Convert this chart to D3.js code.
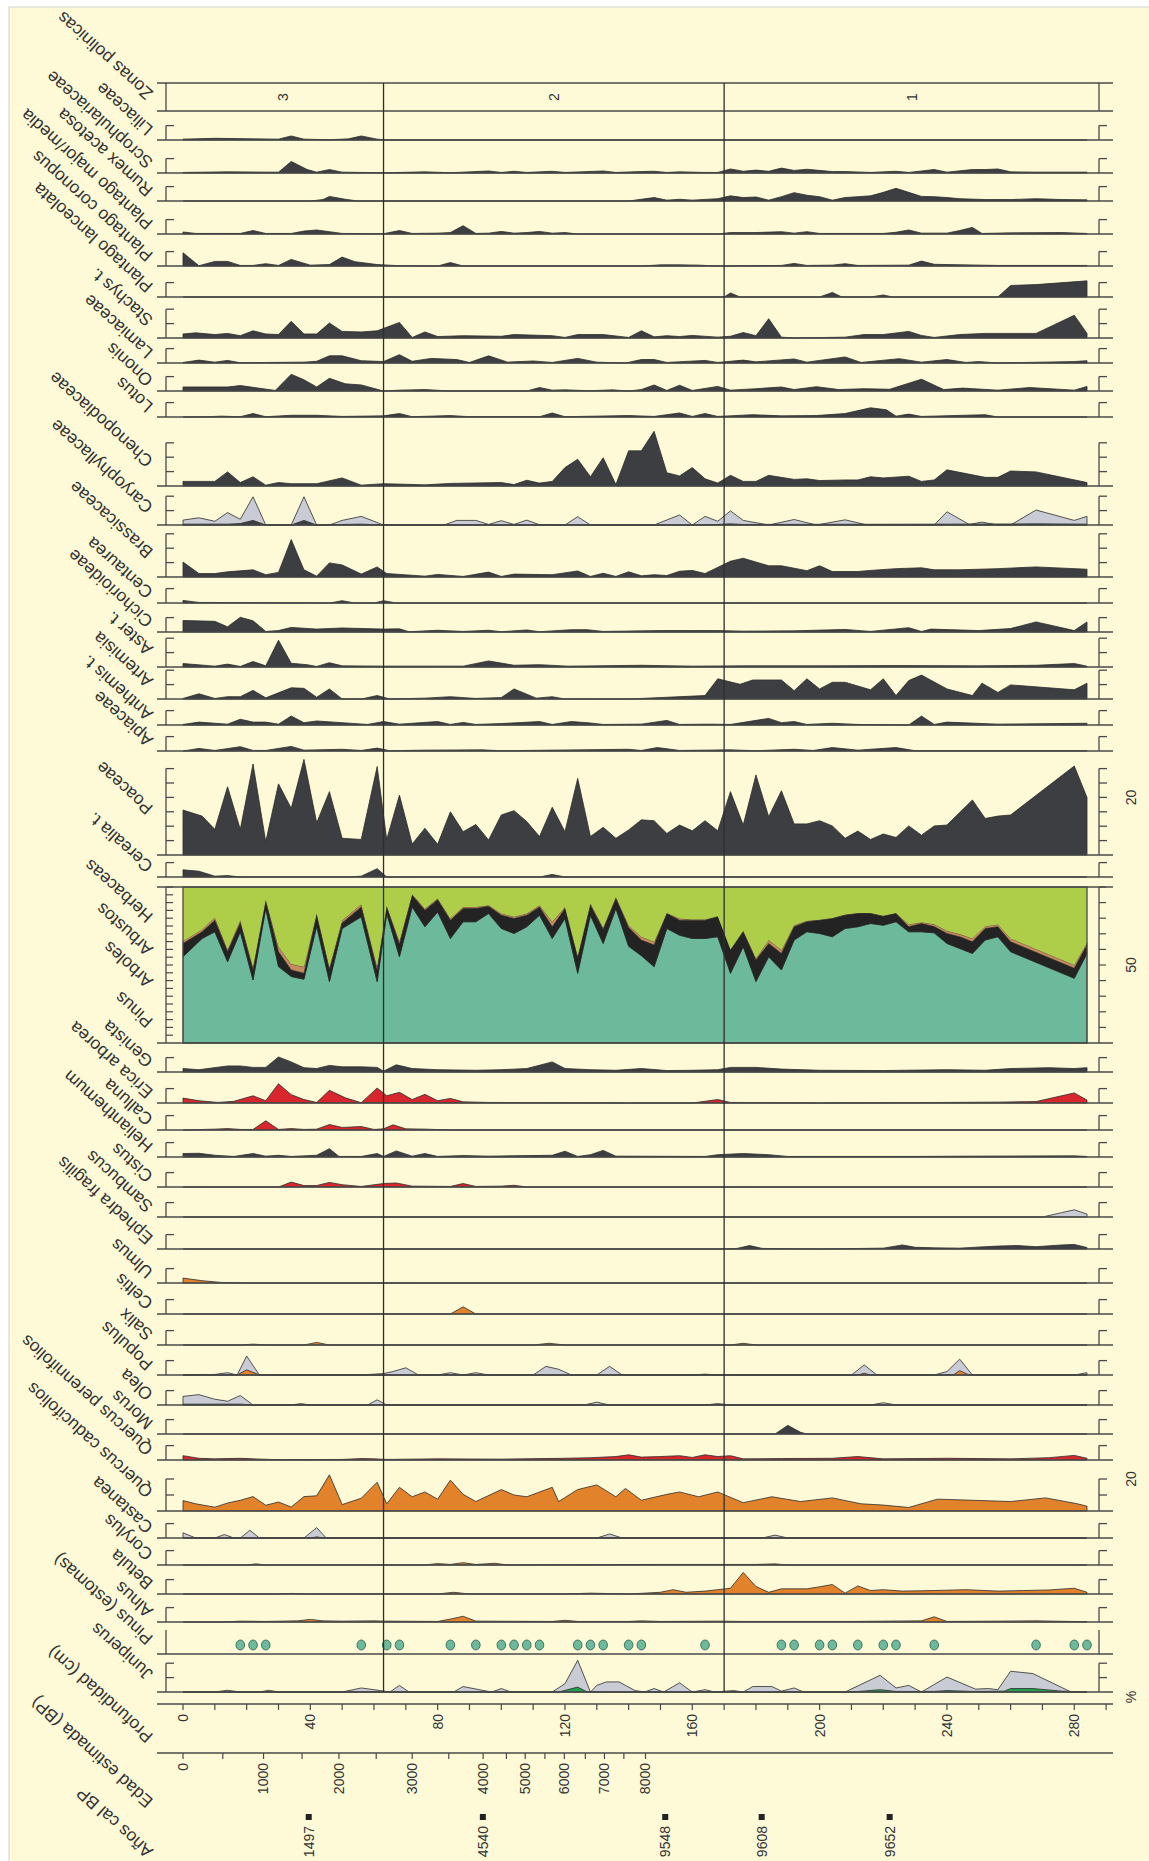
<!DOCTYPE html>
<html><head><meta charset="utf-8">
<script src="https://cdn.jsdelivr.net/npm/d3@7"></script>
<style>
body{margin:0;background:#fff}
svg{display:block}
text{font-family:"Liberation Sans",Arial,Helvetica,sans-serif;fill:#333}
</style></head>
<body><svg id="chart" width="1149" height="1861"></svg>
<script>
// ---------------- DATA ----------------
const taxa = ["Zonas polinicas","Liliaceae","Scrophulariaceae","Rumex acetosa","Plantago major/media","Plantago coronopus","Plantago lanceolata","Stachys t.","Lamiaceae","Ononis","Lotus","Chenopodiaceae","Caryophyllaceae","Brassicaceae","Centaurea","Cichorioideae","Aster t.","Artemisia","Anthemis t.","Apiaceae","Poaceae","Cerealia t.","Herbaceas","Arbustos","Arboles","Pinus","Genista","Erica arborea","Calluna","Helianthemum","Cistus","Sambucus","Ephedra fragilis","Ulmus","Celtis","Salix","Populus","Olea","Morus","Quercus perennifolios","Quercus caducifolios","Castanea","Corylus","Betula","Alnus","Pinus (estomas)","Juniperus","Profundidad (cm)","Edad estimada (BP)","Años cal BP"];

const zoneBounds = [63, 170];
const zoneLabels = [["3",31.5],["2",116.5],["1",229]];

const depthTicks = d3.range(0, 291, 10);
const depthLabels = [0,40,80,120,160,200,240,280];
const ageTicks = [0,500,1000,1500,2000,2500,3000,3500,4000,4500,5000,5500,6000,6500,7000,7500,8000];
const ageTickDepths = [0,12.5,25.3,37.4,49,60.7,72,83.5,94.3,101.6,107.5,113.7,119.8,126.4,132.4,138.5,145.3];
const calAges = [1497,4540,9548,9608,9652];
const calDepths = [39.5,94.2,151.5,181.8,222];

const liliaceae = [[0,0.3],[10,0.6],[22,0.4],[30,0.3],[34,1.4],[38,0.3],[46,0.1],[52,0.4],[56,1.4],[61,0.3],[64,0],[284,0]];
const scrophulariaceae = [[0,0.2],[14,0.4],[26,0.3],[30,0.3],[34,4],[39,1.2],[42,0.3],[46,1.2],[50,0.3],[56,0.2],[64,0.1],[76,0.4],[84,0.1],[96,0.7],[100,0.2],[104,0.6],[108,0.2],[116,0.6],[120,0.2],[132,0.7],[136,0.2],[144,0.5],[148,0.6],[152,0.2],[156,0.4],[164,0.2],[168,0.2],[172,1.4],[176,0.6],[180,1],[184,0.6],[188,1.7],[192,0.9],[196,1.3],[204,0.5],[208,0.5],[216,0.2],[224,0.6],[228,0.2],[236,1.2],[240,0.3],[248,1.2],[252,1.2],[256,1.4],[260,0.4],[268,0.3],[284,0.3]];
const rumex = [[0,0],[40,0],[44,0.5],[46,1.6],[51,0.6],[55,0],[140,0],[144,0.6],[148,1.2],[152,0.3],[156,0.6],[160,0.3],[168,0.8],[172,1.8],[176,1.2],[180,1.4],[184,0.3],[188,1.5],[192,2.9],[196,2],[200,1.5],[204,0.3],[208,1.2],[212,1.5],[216,1.8],[220,3],[224,4.4],[228,3],[232,1.6],[236,1.5],[240,1.2],[244,0.8],[252,0.5],[260,0.5],[268,0.8],[276,0.5],[284,0.4]];
const plantagoMajor = [[0,0.7],[4,0.2],[18,0.2],[22,1.2],[26,0.2],[34,0.2],[38,1],[42,1.4],[46,0.8],[50,0.2],[63,0.1],[68,1.2],[72,0.2],[80,0.3],[84,0.5],[88,2.9],[92,0.2],[96,0.3],[100,0.9],[104,0.3],[108,0.5],[112,0.9],[116,0.3],[120,0.5],[124,0],[168,0],[172,0.5],[180,0.5],[188,0.8],[192,0.3],[196,0.8],[200,0.2],[220,0.2],[224,0.6],[228,1.4],[232,0.3],[240,0.3],[244,1.2],[248,2.3],[251,0.2],[260,0.4],[276,0.5],[284,0.2]];
const plantagoCoronopus = [[0,4.6],[5,0.1],[10,1.6],[14,1.6],[18,0.2],[22,0.2],[26,0.8],[30,0.2],[34,2.3],[40,0.3],[46,0.5],[50,3.1],[54,1.5],[61,0.5],[68,0.1],[80,0],[84,1.2],[88,0],[144,0],[150,0.4],[156,0.4],[162,0.3],[168,0],[188,0.2],[192,0.9],[196,0.2],[204,0.3],[208,0.8],[212,0.2],[228,0.3],[232,1.7],[236,0.6],[240,0.5],[256,0.2],[284,0.2]];
const plantagoLanceolata = [[0,0],[168,0],[170,0],[172,1.4],[175,0],[200,0],[204,1.6],[207,0],[216,0],[220,0.7],[223,0],[256,0],[260,4],[268,4.3],[284,5.6]];
const stachys = [[0,1.4],[4,1.8],[10,1.2],[14,1.6],[18,0.8],[22,2.5],[26,1.4],[30,1.2],[34,5.8],[38,1.4],[42,1.4],[46,5.2],[50,2.3],[56,2.1],[61,2.5],[68,5.4],[72,0.2],[76,2.1],[80,0.5],[88,0.8],[100,0.6],[104,1.2],[116,0.8],[120,0.2],[124,1.2],[132,1.2],[140,0.2],[144,2.5],[148,0.4],[152,0.8],[156,0.5],[160,0.9],[168,0.3],[172,0.6],[176,1.9],[180,0.8],[184,6.7],[188,0.3],[192,0],[208,0.3],[214,1.2],[220,1.2],[228,2.3],[232,0.9],[236,0.2],[244,1.2],[252,1.6],[268,1.6],[280,7.9],[284,1.6]];
const lamiaceae = [[0,0.2],[5,1],[10,0.3],[14,0.9],[18,0.1],[38,0.3],[42,0.6],[46,2.5],[50,2.5],[56,0.8],[63,0.5],[68,2.9],[72,0.6],[78,1.6],[86,1.2],[90,0.2],[96,2.5],[102,0.3],[110,0.7],[116,0.2],[124,1.6],[130,0.3],[139,0],[144,1.2],[148,1.2],[152,0.2],[164,0.9],[168,0.2],[176,1],[180,0.4],[192,1.4],[196,0.3],[208,2.1],[213,0.2],[225,1.5],[232,0.3],[240,1.2],[246,0.2],[250,0.5],[256,0],[280,0.5],[284,0.8]];
const ononis = [[0,1.4],[14,1.4],[18,1.9],[29,0.2],[34,5.8],[38,3.9],[42,1.4],[46,4.4],[51,2.5],[56,2.1],[63,0],[68,0.3],[76,0.5],[84,0],[108,0],[112,1.2],[116,0.3],[120,0.4],[128,0.1],[135,0.4],[140,0],[144,0.5],[148,2.1],[152,0.2],[156,2],[160,0.2],[168,1.6],[172,0.3],[180,0.8],[188,1.4],[192,0.5],[199,1.5],[206,0.5],[214,0.8],[222,0.6],[232,4.1],[239,0.5],[245,1],[256,0.3],[266,1.2],[280,0.3],[284,1.6]];
const lotus = [[0,0],[8,0.1],[12,0.3],[18,0.1],[22,1.2],[26,0.1],[34,0.6],[42,0.6],[50,0.2],[63,0.4],[68,1.2],[72,0.1],[84,0.5],[90,0.1],[112,0.1],[116,1.4],[120,0.1],[140,0.5],[148,0.2],[156,1.4],[160,0.2],[164,1.2],[168,0.2],[179,0.8],[188,0.4],[199,0.5],[208,1.2],[216,3.2],[221,2.5],[224,0.3],[228,1],[232,0.2],[252,0.8],[256,0],[284,0]];
const chenopodiaceae = [[0,1.6],[10,1.6],[14,4.9],[18,1.2],[22,3.2],[26,0.3],[30,1.2],[34,0.8],[42,0.8],[50,2.8],[56,0.3],[63,0.8],[70,0.6],[76,0.4],[84,0.9],[100,1.2],[104,0.5],[108,2],[112,1],[116,1.6],[120,6.4],[124,9.3],[128,3.2],[132,9.8],[136,0.5],[140,12.2],[144,12.2],[148,19],[152,4.6],[156,3.5],[160,6.4],[164,2.5],[168,1],[172,3.7],[176,1.6],[180,1.6],[184,3.7],[192,2.3],[196,2.5],[200,1.9],[208,2.1],[212,2.1],[216,3.2],[220,2.8],[228,3.4],[232,1.6],[236,2.1],[240,5.6],[252,3],[256,3],[260,5.2],[268,4.9],[284,1.2]];
const caryophyllaceaeX = [[0,1.7],[5,2.5],[10,1.3],[14,4.3],[18,2],[22,9.8],[26,0],[34,0],[38,9.8],[42,0],[46,0],[50,1.6],[56,3],[63,0],[82,0],[86,1.6],[92,1.6],[96,0.2],[100,1.5],[104,0.2],[108,1.7],[112,0.1],[120,0],[124,2.9],[128,0],[148,0],[156,3.5],[160,0],[164,3],[168,1.3],[172,4.9],[176,1.6],[184,0],[192,1.9],[199,0],[208,1.8],[215,0],[236,0],[240,4.6],[247,0.2],[251,1],[256,0],[260,0],[268,5.2],[280,1.6],[284,3]];
const caryophyllaceae = [[0,0.3],[14,0.3],[18,0.5],[22,1.6],[26,0],[34,0],[38,1.6],[42,0],[50,0.2],[56,0.3],[63,0],[164,0],[168,0.2],[172,0.4],[176,0.2],[240,0.3],[268,0.4],[284,0.3]];
const brassicaceae = [[0,5.2],[5,1.2],[10,1.2],[14,1.8],[22,2.5],[26,0.8],[30,1.6],[34,13],[38,2.5],[42,0.3],[46,4.9],[50,4.2],[56,1],[61,3.5],[64,1.2],[76,0.3],[80,0.9],[88,0.2],[96,1.7],[100,0.2],[104,1],[116,0.8],[124,2.1],[128,0.2],[132,1.3],[136,0.2],[140,1.8],[144,0.4],[148,0.8],[152,0.5],[156,2],[160,2.3],[164,1.2],[172,5.5],[176,6.5],[184,3.9],[188,3.9],[196,2.2],[200,3.9],[204,1.9],[212,1.9],[216,2.3],[224,2.9],[232,3.2],[236,2.5],[244,2.5],[256,2.9],[268,3.5],[284,2.7]];
const centaurea = [[0,0.9],[5,0.2],[46,0],[50,0.8],[54,0],[60,0],[63,0.8],[67,0],[284,0]];
const cichorioideae = [[0,4],[10,3.7],[14,1.8],[18,5.1],[22,3.9],[26,0.2],[30,0.5],[34,1.6],[42,1],[50,1.4],[63,1],[68,1.1],[71,0.1],[80,0.6],[88,0.2],[96,0.6],[100,0.1],[108,0.7],[112,0.1],[122,0.8],[127,0.8],[132,0.2],[144,0.4],[150,0.5],[160,0.5],[168,0.5],[176,0.3],[192,0.4],[208,0.9],[216,0.2],[228,1.5],[232,0.2],[235,1],[250,0.5],[260,1.2],[268,3.5],[280,0.5],[284,3.5]];
const asterT = [[0,1.2],[10,0.3],[14,1],[18,0.2],[22,1.9],[26,0.4],[30,9.3],[34,1.3],[39,0.8],[42,0.2],[46,1.5],[50,0.4],[63,0.3],[80,0.3],[88,0.3],[96,2.1],[104,0.6],[112,0.8],[121,0.3],[144,0.6],[160,0.3],[176,0.4],[200,0.4],[224,0.5],[250,0.4],[268,0.6],[280,1.2],[284,0.3]];
const artemisia = [[0,0.2],[5,1.8],[10,0.2],[14,0.8],[18,0.8],[22,3],[26,0.4],[34,3.9],[38,3.7],[42,0.6],[46,3.5],[50,0],[56,0],[61,1.2],[65,0],[76,0.3],[84,0.8],[92,0.2],[100,0.5],[104,3.5],[111,0.3],[116,0.8],[120,0],[140,0],[164,1.2],[168,7],[175,5.1],[179,6.6],[188,6.6],[192,2.9],[196,7],[200,3.5],[204,5.8],[208,5.8],[216,3.2],[220,7],[224,1.2],[228,6.4],[232,8.3],[240,3.5],[248,1.2],[251,5.5],[256,2.3],[260,4.9],[280,3.2],[284,5.5]];
const anthemis = [[0,0.2],[5,1],[14,0.3],[18,2],[22,1],[26,1],[30,0.3],[34,3.1],[38,0.8],[42,1.4],[50,0.8],[58,0.2],[63,1.2],[68,0.3],[80,1.2],[84,0.2],[88,0.9],[92,0.2],[100,0.5],[112,1.2],[116,0.2],[122,1.2],[128,0.7],[132,0.2],[144,0.3],[152,1.6],[156,0.2],[165,0.3],[172,0.2],[184,2.3],[188,0.8],[192,1.2],[196,0.2],[204,0.6],[212,0.2],[228,0],[232,3.1],[236,0.2],[240,1],[256,0.3],[284,0.6]];
const apiaceae = [[0,0],[5,0.9],[10,0.2],[18,1.5],[22,0.2],[26,0.2],[34,1.6],[38,0.3],[50,0.6],[56,0.2],[61,1],[65,0.1],[76,0.3],[94,0.4],[100,0.1],[140,0.6],[144,0.2],[149,1.2],[156,0.2],[172,0.4],[180,0.1],[192,0.6],[198,0.2],[204,1.2],[212,0.3],[224,1.2],[230,0.1],[284,0.1]];
const poaceae = [[0,15.6],[6,13.5],[10,8.9],[14,23.7],[18,8.9],[22,31.6],[26,4.6],[30,24.7],[34,16.2],[38,33.2],[42,11.2],[46,22],[50,5.8],[56,5.4],[61,30.7],[64,5.4],[68,20.8],[72,3.8],[76,9.3],[80,3.7],[84,15],[88,8.1],[92,10.6],[96,5.2],[100,13.9],[104,15.4],[108,11.6],[112,6.4],[116,16.6],[120,8.1],[124,26.6],[128,6.4],[132,9.6],[136,5.8],[140,8.7],[144,12.2],[148,11.9],[152,7.5],[156,10.4],[160,8.4],[164,11.9],[168,8.4],[172,22],[176,10.4],[180,27.8],[184,13.3],[188,22.3],[192,10.8],[196,10.8],[200,11.9],[204,10.1],[208,5.8],[212,8.3],[216,5.4],[220,7.3],[224,6.1],[228,10.1],[232,6.9],[236,10.1],[240,10.4],[248,19.1],[252,12.7],[256,13.5],[260,13.9],[280,30.9],[284,20]];
const cerealia = [[0,2.5],[5,2],[10,0.3],[14,0.5],[18,0],[52,0],[56,0.3],[61,2.9],[64,0],[112,0],[116,0.9],[120,0],[284,0]];

const stackDepths = [0,6,10,14,18,22,26,30,34,38,42,46,50,56,61,64,68,72,76,80,84,88,92,96,100,104,108,112,116,120,124,128,132,136,140,144,148,152,156,160,164,168,172,176,180,184,188,192,196,200,204,208,212,216,220,224,228,232,236,240,244,248,252,256,260,280,284];
const pinusPct = [55.3,67,71.3,52.1,71.3,40.4,86.2,49,42.6,40.9,74.9,39.4,73.4,80.9,39.4,83,55.3,87.2,74.5,84,67,77.7,77.7,83,73.4,70.2,74.5,81.9,67,79.8,44.7,81.9,63.8,86.2,62,56,48.9,73.4,69.1,67,67,68.1,44.7,61.7,39.4,55.3,46.8,66,71.3,70.2,68.1,73.4,74.5,76.6,75.5,77.7,71.3,71.3,70.6,63.8,60.6,57.4,66,68.1,58.5,41.5,57.4];
const arbolesPct = [8.5,4.3,7.4,6.4,5.7,6.4,4.7,9.5,4.2,3.8,7.0,7.4,3.6,6.3,7,4.2,8,7.5,10.6,7.9,11.7,8.5,8.5,4.7,8.5,9.6,7.4,5.3,7.5,6.4,10,6.4,9,6.4,12,10,13.9,9.6,9.6,11.7,11.7,12.8,14.9,9.6,13.8,8.5,10.6,8.5,6.4,8.5,11.7,8.5,8.5,6.4,5.8,5.3,3.2,5.3,4,6.4,7.5,7.5,7.4,6.4,6.4,6.4,5.4];
const arbustosPct = [1.5,1.5,1.7,1.5,1.7,1.7,1.0,3.2,3.8,4.2,1.1,1.7,1.7,1.7,2.5,0.7,2,0.6,1.1,0.7,1.1,1.0,1.0,0.6,1.1,1.1,1.1,1.1,3.2,1.0,1,1.1,1,1.0,1.5,2.1,2.1,0.4,1.1,0.4,0.5,0.4,0.4,0.6,1.1,2.2,2.2,1.0,0.6,0.3,0.4,0.4,0.3,0.3,0.3,0.3,1.5,0.8,1.5,1.7,1.7,2.1,1.5,1.5,2.1,2.1,1.5];
const herbaceasPct = [34.7,27.2,19.6,40,21.3,51.5,8.1,38.3,49.4,51.1,17,51.5,21.3,11.1,51.1,12.1,34.7,4.7,13.8,7.4,20.2,12.8,12.8,11.7,17,19.1,17,11.7,22.3,12.8,44.3,10.6,26.2,6.4,24.5,31.9,35.1,16.6,20.2,20.9,20.8,18.7,40,28.1,45.7,34,40.4,24.5,21.7,21,19.8,17.7,16.7,16.7,18.4,16.7,24,22.6,23.9,28.1,30.2,33,25.1,24,33,50,35.7];

const genista = [[0,1.2],[5,0.8],[14,2.1],[18,2.1],[22,1.6],[26,1.6],[30,5.2],[34,3.5],[38,1.5],[42,1.2],[46,2.3],[50,1.8],[56,1.8],[61,1.6],[63,0.3],[67,2.5],[72,1.2],[80,0.8],[92,0.6],[100,0.8],[108,1.2],[116,3.5],[120,1.2],[128,0.8],[136,0.6],[144,1.2],[152,0.5],[160,0.6],[168,0.8],[172,1.6],[180,1.6],[188,1],[200,0.6],[220,0.5],[240,0.8],[252,0.6],[260,1.2],[272,1.5],[280,1.2],[284,1.5]];
const ericaArborea = [[0,1.7],[5,0.8],[11,0.2],[16,0.6],[22,2.5],[26,0.8],[30,6.7],[34,2.9],[38,1.2],[42,0.2],[46,4.4],[51,1.8],[56,0.1],[61,5.2],[64,2.5],[68,3.7],[72,1.2],[76,3],[80,0.8],[84,1.6],[88,0.4],[96,0.2],[140,0],[160,0],[164,0.6],[168,1.2],[172,0.2],[200,0],[240,0.2],[256,0.3],[268,0.5],[280,3.5],[284,1]];
const calluna = [[0,0],[10,0.3],[14,0.5],[18,0.2],[22,0.2],[26,3.2],[30,0.2],[34,0.5],[38,0.2],[42,0.3],[46,1.9],[50,0.9],[56,1.2],[60,0.2],[63,0.4],[66,1.8],[70,0.4],[76,0.3],[84,0],[284,0]];
const helianthemum = [[0,1.2],[5,1.3],[10,0.6],[16,0.2],[22,1.2],[26,0.3],[30,0.6],[34,0.2],[42,0.6],[46,2.9],[49,0.2],[56,0.2],[61,1.2],[63,0.2],[67,2.1],[72,0.3],[76,1.2],[80,0.2],[88,0.5],[96,0.3],[116,0.6],[120,2],[124,0.2],[128,0.8],[132,2.3],[136,0.3],[164,0.2],[168,0.8],[176,1.2],[184,0.8],[190,0.2],[230,0.2],[248,0.3],[280,0.4],[284,0.2]];
const cistus = [[0,0],[30,0],[34,1.7],[38,0.5],[42,0.5],[46,1.6],[50,0.8],[56,0.2],[63,1.2],[67,1.4],[72,0.3],[84,0.2],[88,1.2],[92,0.2],[100,0.3],[104,0.6],[108,0],[284,0]];
const sambucusX = [[0,0],[270,0],[276,1.5],[280,2.5],[284,1]];
const ephedra = [[0,0],[170,0],[174,0.2],[178,1.2],[182,0.2],[200,0],[220,0.3],[226,1.4],[230,0.6],[236,0.4],[244,0.3],[252,0.8],[256,1],[262,1.2],[268,0.8],[276,1.4],[280,1.6],[284,0.5]];
const ulmus = [[0,1.7],[6,0.8],[12,0.2],[20,0],[284,0]];
const celtis = [[0,0],[84,0],[88,2.5],[92,0],[284,0]];
const salix = [[0,0],[18,0],[22,0.3],[26,0],[38,0],[42,0.9],[46,0],[110,0],[115,0.6],[120,0],[172,0],[176,0.6],[180,0],[284,0]];
const populusX = [[0,0],[10,0.2],[14,0.8],[17,0],[20,6.6],[24,0],[56,0],[63,0.5],[66,1.2],[70,2.5],[74,0],[80,0],[84,0.8],[88,0],[92,0.8],[96,0],[110,0],[114,3],[118,2],[122,0],[130,0],[134,3],[138,0],[160,0],[164,0.3],[168,0],[210,0],[214,3.5],[218,0],[236,0],[240,1.2],[244,5.5],[248,0],[280,0],[284,0.8]];
const populus = [[0,0],[17,0],[20,1.8],[24,0],[212,0],[214,0.6],[216,0],[242,0],[244,1.5],[247,0],[284,0]];
const oleaX = [[0,3],[5,3.6],[10,2],[14,1.3],[18,3.3],[22,0],[34,0],[37,0.5],[40,0],[58,0],[61,1.8],[64,0],[126,0],[130,1],[134,0],[164,0],[168,0.5],[172,0],[216,0],[220,0.8],[224,0],[284,0]];
const olea = [[0,0.3],[18,0.3],[22,0],[284,0]];
const morus = [[0,0],[186,0],[190,3],[194,0.6],[196,0],[284,0]];
const quercusPerennifolios = [[0,1.5],[5,0.6],[10,0.4],[14,0.5],[18,0.6],[22,0.4],[30,0.1],[50,0.2],[56,0.5],[60,0.4],[64,0.2],[80,0.4],[100,0.3],[120,0.6],[128,0.8],[136,1.2],[140,1.8],[144,1],[150,1.2],[156,1.5],[160,0.9],[164,1.8],[168,1.2],[172,1.5],[176,0.4],[188,0.5],[204,0.6],[212,1.2],[220,0.4],[240,0.6],[260,0.4],[272,0.8],[280,1.6],[284,0.6]];
const quercusCaducifolios = [[0,6.5],[4,4.5],[10,2.4],[14,5],[18,6.7],[22,9],[26,3.6],[30,5.6],[34,2.5],[38,9],[42,9.5],[46,22.6],[50,4],[56,8],[61,18],[64,4.5],[68,14.8],[72,8.9],[76,11.9],[80,7.4],[84,19.3],[88,10.4],[92,5.9],[100,13.4],[104,10],[108,8.9],[116,14.8],[118,5.9],[124,13.4],[130,16.3],[136,8.9],[139,14.1],[144,6.7],[152,10.4],[156,11.9],[162,8.9],[168,11.9],[176,5.2],[185,8.9],[194,5.9],[204,8.2],[213,4.5],[220,3.7],[228,2.2],[237,7.4],[248,6.7],[260,5.9],[271,8.2],[281,4.5],[284,3]];
const castaneaX = [[0,1.8],[4,0],[10,0],[13,1.2],[16,0],[18,0],[21,2.7],[24,0],[38,0],[42,3.6],[45,0],[130,0],[134,1.4],[138,0],[182,0],[186,1],[190,0],[284,0]];
const castanea = [[0,0],[40,0],[42,0.4],[44,0],[284,0]];
const corylus = [[0,0],[20,0],[23,0.4],[26,0],[76,0],[80,0.5],[84,0.2],[88,0.8],[92,0.2],[98,0.6],[102,0],[120,0.1],[150,0.2],[180,0.2],[186,0.4],[190,0],[284,0]];
const betula = [[0,0],[30,0],[34,0.2],[40,0],[80,0],[85,0.6],[90,0],[120,0],[128,0.3],[140,0],[150,0.6],[154,1.5],[158,0.6],[164,1],[168,1.5],[172,2],[176,7.5],[180,2.6],[184,0.6],[188,1.8],[196,1.8],[200,2.5],[204,3.3],[208,0.3],[212,2.8],[216,1.2],[220,1.5],[226,1],[236,1.2],[246,1.5],[256,1],[264,1.2],[272,1.4],[280,2],[284,0.6]];
const alnus = [[0,0],[12,0],[18,0.3],[26,0.2],[36,0.4],[40,0.9],[44,0.4],[50,0.3],[60,0.4],[64,0.3],[80,0.2],[84,1],[88,2],[92,0.3],[116,0.2],[120,0.6],[124,0.2],[140,0.2],[144,0.4],[150,0.2],[168,0.3],[176,0.2],[210,0.2],[232,0.4],[236,1.8],[240,0.2],[256,0.3],[268,0.4],[284,0.1]];
const pinusEstomas = [18,22,26,56,64,68,84,92,100,104,108,112,124,128,132,140,144,164,188,192,200,204,212,220,224,236,268,280,284];
const juniperusX = [[0,0],[10,0],[14,0.6],[18,0],[24,0],[27,0.6],[30,0],[50,0],[56,1.4],[62,0.5],[65,0],[68,2.3],[71,0],[85,0],[88,1.9],[94,0.6],[97,0],[100,1.2],[103,0],[116,0],[120,2.9],[124,11],[128,0],[130,2.3],[133,3.5],[137,3.5],[142,0.5],[145,0],[148,1.2],[151,0],[156,3.2],[160,0],[164,0.8],[167,0],[173,0.5],[176,0],[179,1.9],[185,1.9],[188,0.3],[192,1.4],[195,0],[208,0],[219,5.8],[224,1.4],[228,2.3],[232,0],[240,5.2],[249,1],[253,1.2],[256,0.8],[260,7.2],[267,6.4],[279,0],[284,0]];
const juniperus = [[0,0],[118,0],[124,1.7],[127,0],[210,0],[219,0.8],[224,0.2],[236,0.2],[240,0.5],[248,0.2],[258,0.3],[260,1.2],[267,1.2],[276,0.3],[284,0]];

// ---------------- DRAWING ----------------
const C = {dark:"#3d3e41", grey:"#c9ccd4", red:"#d7262c", orange:"#e2832b", teal:"#6cb99c", herb:"#aecd48", brown:"#c48b5f", black:"#232323", green:"#22a04c", line:"#4a4a4a", bg:"#fefad8"};
const svg = d3.select("#chart");
svg.append("rect").attr("x",9).attr("y",7).attr("width",1145).attr("height",1860).attr("fill",C.bg).attr("stroke","#d2d2d2");
const x = d3.scaleLinear().domain([0,284]).range([183,1087]);
const XL = 157, XR = 1113, BL = 166, BR = 1099;
const K = 2.88;
const LABEL_SIZE = 17.5, LABEL_ROT = -138;
const g = svg.append("g");

function hline(y, x1=XL, x2=XR, w=1.5, col=C.line){ g.append("line").attr("x1",x1).attr("x2",x2).attr("y1",y).attr("y2",y).attr("stroke",col).attr("stroke-width",w); }
function vline(xx, y1, y2, w=1.3, col=C.line){ g.append("line").attr("x1",xx).attr("x2",xx).attr("y1",y1).attr("y2",y2).attr("stroke",col).attr("stroke-width",w); }
function label(txt, py){
  g.append("text").attr("transform",`translate(154,${py}) rotate(${LABEL_ROT})`).attr("font-size",LABEL_SIZE).text(txt);
}
function bracket(base, levels, yS, plainTop){
  [BL,BR].forEach(bx=>{
    const top = plainTop != null ? plainTop : yS(levels[levels.length-1]);
    vline(bx, base, top, 1.3);
    if (plainTop == null) levels.forEach(v=>{ hline(yS(v), bx, bx+8, 1.3); });
  });
}

// rows: [taxonIndex, baseline, scale levels, series list, px per %]
const rows = [
 [1,140,[5],[[liliaceae,C.dark]]],
 [2,173,[5],[[scrophulariaceae,C.dark]]],
 [3,201,[5],[[rumex,C.dark]]],
 [4,234,[5],[[plantagoMajor,C.dark]]],
 [5,266,[5],[[plantagoCoronopus,C.dark]]],
 [6,297,[5],[[plantagoLanceolata,C.dark]]],
 [7,338,[5,10],[[stachys,C.dark]]],
 [8,363,[5],[[lamiaceae,C.dark]]],
 [9,391,[5],[[ononis,C.dark]]],
 [10,417,[5],[[lotus,C.dark]]],
 [11,486,[5,10,15],[[chenopodiaceae,C.dark]]],
 [12,525,[5,10],[[caryophyllaceaeX,C.grey],[caryophyllaceae,C.dark]]],
 [13,577,[5,10,15],[[brassicaceae,C.dark]]],
 [14,603,[5],[[centaurea,C.dark]]],
 [15,632,[5],[[cichorioideae,C.dark]]],
 [16,667,[5,10],[[asterT,C.dark]]],
 [17,699,[5,10],[[artemisia,C.dark]]],
 [18,725,[5],[[anthemis,C.dark]]],
 [19,751,[5],[[apiaceae,C.dark]]],
 [20,855,[5,10,15,20,25,30],[[poaceae,C.dark]]],
 [21,877,[5],[[cerealia,C.dark]]],
 [26,1072,[5],[[genista,C.dark]]],
 [27,1103,[5],[[ericaArborea,C.red]]],
 [28,1130,[5],[[calluna,C.red]]],
 [29,1157,[5],[[helianthemum,C.dark]]],
 [30,1187,[5],[[cistus,C.red]]],
 [31,1217,[5],[[sambucusX,C.grey]]],
 [32,1249,[5],[[ephedra,C.dark]]],
 [33,1283,[5],[[ulmus,C.orange]]],
 [34,1314,[5],[[celtis,C.orange]]],
 [35,1345,[5],[[salix,C.orange]]],
 [36,1375,[5],[[populusX,C.grey],[populus,C.orange]]],
 [37,1405,[5],[[oleaX,C.grey],[olea,C.dark]]],
 [38,1434,[5],[[morus,C.dark]]],
 [39,1460,[5],[[quercusPerennifolios,C.red]]],
 [40,1511,[10,20],[[quercusCaducifolios,C.orange]],1.6],
 [41,1538,[5],[[castaneaX,C.grey],[castanea,C.orange]]],
 [42,1565,[5],[[corylus,C.orange]]],
 [43,1594,[5],[[betula,C.orange]]],
 [44,1622,[5],[[alnus,C.orange]]],
 [46,1692,[5,10],[[juniperusX,C.grey],[juniperus,C.green]]]
];

rows.forEach(([ti, base, levels, series, k])=>{
  k = k || K;
  const yS = d3.scaleLinear().domain([0,100]).range([base, base-100*k]);
  const area = d3.area().x(d=>x(d[0])).y0(base).y1(d=>yS(d[1]));
  series.forEach(([data,fill])=>{
    g.append("path").datum(data).attr("d",area).attr("fill",fill)
      .attr("stroke","#2c2c2c").attr("stroke-width",0.8).attr("stroke-linejoin","round");
  });
  hline(base);
  bracket(base, levels, yS);
  const top = yS(levels[levels.length-1]);
  label(taxa[ti], (base+top)/2 - 5);
});

// Pinus (estomas) presence dots
(function(){
  const base = 1654;
  g.selectAll("ellipse.est").data(pinusEstomas).enter().append("ellipse")
    .attr("cx",d=>x(d)).attr("cy",1645).attr("rx",4.3).attr("ry",5)
    .attr("fill",C.teal).attr("stroke","#2f5d4c").attr("stroke-width",0.8);
  hline(base);
  bracket(base, [], null, base-24);
  label(taxa[45], base-17);
})();

// stacked summary panel
(function(){
  const top = 887, bot = 1043;
  const yS = d3.scaleLinear().domain([0,100]).range([bot, top]);
  const rowsS = stackDepths.map((d,i)=>({d, pinus:pinusPct[i], arboles:arbolesPct[i], arbustos:arbustosPct[i], herbaceas:herbaceasPct[i]}));
  const keys = ["pinus","arboles","arbustos","herbaceas"];
  const cols = {pinus:C.teal, arboles:C.black, arbustos:C.brown, herbaceas:C.herb};
  const series = d3.stack().keys(keys)(rowsS);
  const area = d3.area().x(d=>x(d.data.d)).y0(d=>yS(d[0])).y1(d=>yS(d[1]));
  series.forEach(s=>{
    g.append("path").datum(s).attr("d",area).attr("fill",cols[s.key])
     .attr("stroke", s.key==="herbaceas" ? "none" : "#1e1e1e").attr("stroke-width",0.6).attr("stroke-linejoin","round");
  });
  g.append("rect").attr("x",x(0)).attr("y",top).attr("width",x(284)-x(0)).attr("height",bot-top)
   .attr("fill","none").attr("stroke",C.line).attr("stroke-width",1.3);
  hline(top); hline(bot);
  const lv = d3.range(5,101,5);
  vline(BL, bot, top); vline(BR, bot, top);
  lv.forEach(v=>{ hline(yS(v), BL, BL+7, 1.2); if (v%10===0) hline(yS(v), BR, BR+7, 1.2); });
  const ly = [915, 948, 980, 1020];
  [22,23,24,25].forEach((ti,i)=>label(taxa[ti], ly[i]));
})();

// zone panel
hline(83); hline(111);
vline(BL, 83, 111); vline(BR, 83, 111);
label(taxa[0], 92);
zoneLabels.forEach(([t,d])=>{
  g.append("text").attr("transform",`translate(${x(d)},97) rotate(-90)`).attr("text-anchor","middle").attr("dy","0.35em").attr("font-size",14).text(t);
});

// zone boundaries
zoneBounds.forEach(d=>vline(x(d), 83, 1692, 1.3, "#2e2e2e"));

// depth axis
const yD = 1704;
hline(yD);
depthTicks.forEach(d=>vline(x(d), yD, yD+6, 1.2));
depthLabels.forEach(d=>{
  g.append("text").attr("transform",`translate(${x(d)},${yD+10}) rotate(-90)`).attr("text-anchor","end").attr("dy","0.35em").attr("font-size",14).text(d);
});
label(taxa[47], 1735);

// age axis
const yA = 1753;
hline(yA);
ageTickDepths.forEach(d=>vline(x(d), yA, yA+6, 1.2));
ageTicks.forEach((a,i)=>{
  if (a%1000===0){
    g.append("text").attr("transform",`translate(${x(ageTickDepths[i])},${yA+10}) rotate(-90)`).attr("text-anchor","end").attr("dy","0.35em").attr("font-size",14).text(a);
  }
});
label(taxa[48], 1800);

// calibrated dates
calAges.forEach((a,i)=>{
  const cx = x(calDepths[i]);
  g.append("rect").attr("x",cx-3).attr("y",1814).attr("width",6).attr("height",6).attr("fill","#222");
  g.append("text").attr("transform",`translate(${cx},1826) rotate(-90)`).attr("text-anchor","end").attr("dy","0.35em").attr("font-size",14).text(a);
});
label(taxa[49], 1850);

// right-side scale values
[["20",855-20*K],["50",965],["20",1511-20*1.6],["%",1697]].forEach(([t,y])=>{
  g.append("text").attr("transform",`translate(1131,${y}) rotate(-90)`).attr("text-anchor","middle").attr("dy","0.35em").attr("font-size",14).text(t);
});
</script></body></html>
